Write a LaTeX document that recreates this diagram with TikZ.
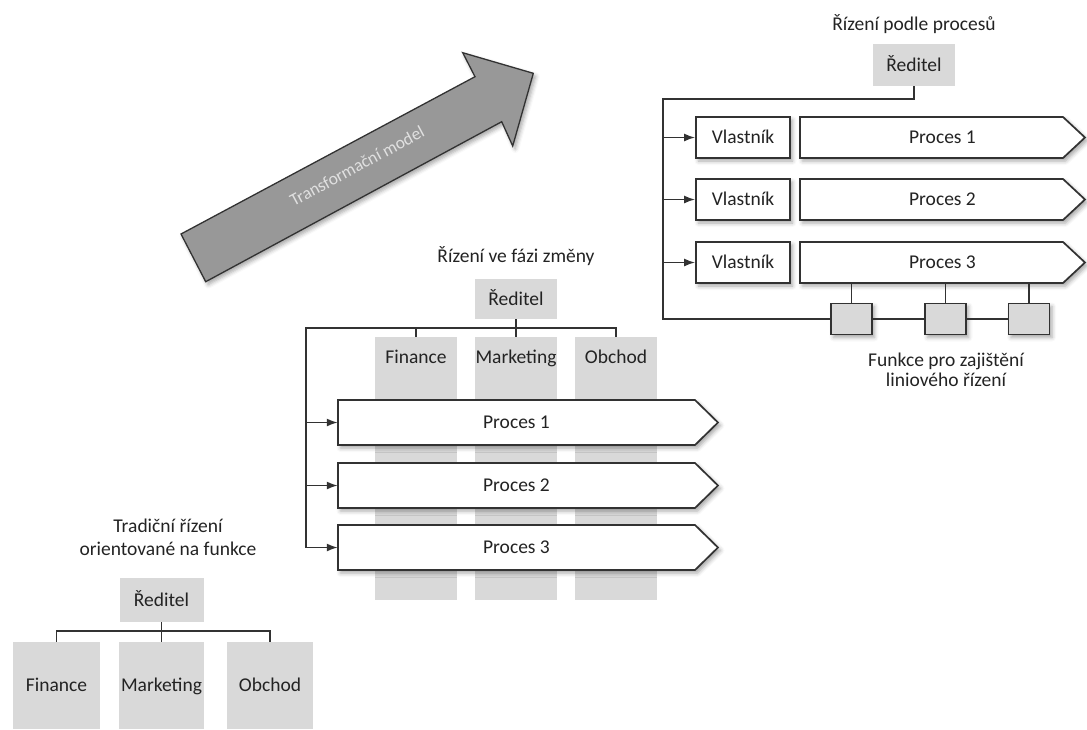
\documentclass[tikz,border=0pt]{standalone}
\usepackage{fontspec}
\setmainfont{Carlito}
\usetikzlibrary{arrows.meta,calc,shadows.blur}

\definecolor{boxgray}{RGB}{217,217,217}
\definecolor{arrowgray}{RGB}{152,152,152}
\definecolor{arrowtext}{RGB}{224,224,224}
\definecolor{linedark}{RGB}{50,50,50}
\definecolor{textdark}{RGB}{35,35,35}

\begin{document}
\begin{tikzpicture}[x=1pt,y=-1pt,
  txt/.style={font=\fontsize{19.5}{23}\selectfont, text=textdark, inner sep=0pt, align=center},
  one/.style={txt, text height=13pt, text depth=1pt},
  conn/.style={draw=linedark, line width=1.7pt},
  flow/.style={conn, -{Latex[length=11pt,width=8pt]}},
  softshadow/.style={blur shadow={shadow xshift=2.5pt, shadow yshift=-3pt,
      shadow blur radius=4pt, shadow opacity=35}},
  unitbox/.style={one, fill=boxgray},
  column/.style={fill=boxgray, minimum width=82pt, minimum height=263pt,
      inner sep=0pt, anchor=north},
  ownerbox/.style={one, draw=linedark, line width=1.7pt, fill=white,
      minimum width=94pt, minimum height=41pt, softshadow},
  funcbox/.style={draw=linedark, line width=1.7pt, fill=boxgray,
      minimum width=41pt, minimum height=31pt, inner sep=0pt, softshadow},
  procframe/.style={draw=linedark, line width=1.7pt, fill=white, softshadow,
      line join=miter},
]
\useasboundingbox (0,0) rectangle (1087,729);

% ---------- transformation arrow ----------
\draw[draw=linedark, line width=1.3pt, fill=arrowgray, softshadow]
  (181,234) -- (475,76.7) -- (462.7,52.7) -- (533.3,73.3) -- (512.7,146)
  -- (501.7,121.7) -- (205.7,281.7) -- cycle;
\node[one, font=\fontsize{17.5}{20}\selectfont, text=arrowtext, rotate=28.3]
  (tm) at (357,166) {Transformační model};

% ---------- traditional functional management ----------
\node[txt] (t1) at (168,537) {Tradiční řízení\\orientované na funkce};
\node[unitbox, minimum width=84pt, minimum height=44pt] (r1) at (161.5,600) {Ředitel};
\node[unitbox, minimum width=87pt, minimum height=87pt] (b1) at (56.5,685.5) {Finance};
\node[unitbox, minimum width=85pt, minimum height=87pt] (b2) at (161.5,685.5) {Marketing};
\node[unitbox, minimum width=86pt, minimum height=87pt] (b3) at (270,685.5) {Obchod};
\coordinate (busL) at (161.5,631);
\draw[conn] (b1.north) |- (busL) -| (b3.north);
\draw[conn] (r1.south) -- (b2.north);

% ---------- management in the change phase ----------
\node[one] (t2) at (516,256) {Řízení ve fázi změny};
\node[unitbox, minimum width=82pt, minimum height=40pt] (r2) at (516,299) {Ředitel};
\node[column] (colF) at (416,337) {};
\node[column] (colM) at (516,337) {};
\node[column] (colO) at (616,337) {};
\node[one] (lF) at (416,357) {Finance};
\node[one] (lM) at (516,357) {Marketing};
\node[one] (lO) at (616,357) {Obchod};

% process bands: 357 wide body, 45 high, 23 long point
\foreach \n/\y/\lab in {q1/422.5/Proces 1, q2/485.5/Proces 2, q3/547.5/Proces 3}{
  \coordinate (\n c) at (516.5,\y);
  \draw[procframe] (\n c) ++(-178.5,-22.5) -- ++(357,0) -- ++(23,22.5)
    -- ++(-23,22.5) -- ++(-357,0) -- cycle;
  \node[one, minimum width=357pt, minimum height=45pt] (\n) at (\n c) {\lab};
}
\coordinate (busM) at (306,328);
\draw[conn] (colO.north) |- (busM) -- (busM |- q3.west);
\draw[conn] (colF.north) -- (colF.north |- busM);
\draw[conn] (r2.south) -- (colM.north);
\foreach \n in {q1,q2,q3}{
  \draw[flow] (busM |- \n.west) -- (\n.west);
}

% ---------- process-oriented management ----------
\node[one] (t3) at (914,24) {Řízení podle procesů};
\node[unitbox, minimum width=82pt, minimum height=42pt] (r3) at (914,65) {Ředitel};
% process bands: 285 long overall, 41 high, 22 long point
\foreach \v/\p/\y/\lab in {v1/p1/137.5/Proces 1, v2/p2/199.5/Proces 2, v3/p3/262.5/Proces 3}{
  \node[ownerbox] (\v) at (743,\y) {Vlastník};
  \coordinate (\p c) at (942.5,\y);
  \draw[procframe] (\p c) ++(-142.5,-20.5) -- ++(263,0) -- ++(22,20.5)
    -- ++(-22,20.5) -- ++(-263,0) -- cycle;
  \node[one, minimum width=285pt, minimum height=41pt] (\p) at (\p c) {\lab};
}
\node[funcbox] (f1) at (851.5,319) {};
\node[funcbox] (f2) at (945.5,319) {};
\node[funcbox] (f3) at (1029,319) {};
\node[txt, font=\fontsize{19.5}{19.5}\selectfont] (cap) at (946,370)
  {Funkce pro zajištění\\liniového řízení};

\coordinate (busR) at (663,99);
\draw[conn] (r3.south) |- (busR) -- (busR |- f1.west) -- (f1.west);
\draw[conn] (f1.east) -- (f2.west);
\draw[conn] (f2.east) -- (f3.west);
\foreach \v in {v1,v2,v3}{
  \draw[flow] (busR |- \v.west) -- (\v.west);
}
\foreach \f in {f1,f2,f3}{
  \draw[conn] (\f.north) -- (\f.north |- p3.south);
}
\end{tikzpicture}
\end{document}
